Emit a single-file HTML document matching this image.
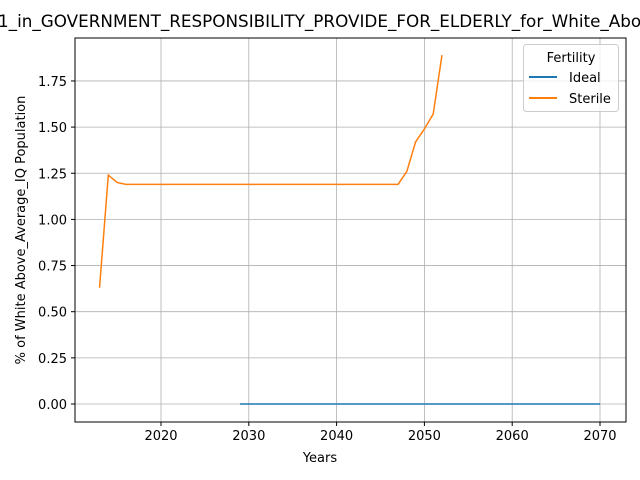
<!DOCTYPE html>
<html><head><meta charset="utf-8"><style>
html,body{margin:0;padding:0;background:#fff;overflow:hidden}
svg{display:block;font-family:"DejaVu Sans","Liberation Sans",sans-serif}
</style></head><body>
<svg id="chart" width="640" height="480" viewBox="0 0 640 480">
<text x="-2" y="27" font-size="16.8" fill="#000">1_in_GOVERNMENT_RESPONSIBILITY_PROVIDE_FOR_ELDERLY_for_White_Above_Average_IQ</text>
<g id="grid"></g>
<g id="series"></g>
<rect x="75" y="38" width="551" height="384" fill="none" stroke="#000" stroke-width="1"/>
<g id="axes"></g>
<text x="320" y="462" font-size="13" text-anchor="middle">Years</text>
<text transform="translate(25,230) rotate(-90)" font-size="13" text-anchor="middle">% of White Above_Average_IQ Population</text>
<g>
<rect x="523.5" y="44.5" width="95" height="67" rx="3" fill="#fff" fill-opacity="0.8" stroke="#ccc"/>
<text x="571" y="62" font-size="13" text-anchor="middle">Fertility</text>
<g><line x1="529" y1="77" x2="557" y2="77" stroke="#1f77b4" stroke-width="2"/><text x="569" y="82" font-size="13">Ideal</text></g>
<g><line x1="529" y1="98" x2="557" y2="98" stroke="#ff7f0e" stroke-width="2"/><text x="569" y="103" font-size="13">Sterile</text></g>
</g>
</svg>
<script>
const idealYears = [];
for (let y = 2029; y <= 2070; y++) idealYears.push(y);
const idealValues = idealYears.map(() => 0);
const sterileYears = [2013,2014,2015,2016,2017,2020,2025,2030,2035,2040,2045,2046,2047,2048,2049,2050,2051,2052];
const sterileValues = [0.63,1.24,1.20,1.19,1.19,1.19,1.19,1.19,1.19,1.19,1.19,1.19,1.19,1.26,1.42,1.49,1.57,1.89];
const xTicks = [2020,2030,2040,2050,2060,2070];
const yTicks = [0,0.25,0.5,0.75,1.0,1.25,1.5,1.75];

const NS = "http://www.w3.org/2000/svg";
const X = v => 161 + (v - 2020) * 8.78;
const Y = v => 404 - v * 184.6;
const grid = document.getElementById('grid'), axes = document.getElementById('axes'), series = document.getElementById('series');
function mk(tag, attrs, parent){const e=document.createElementNS(NS,tag);for(const k in attrs)e.setAttribute(k,attrs[k]);parent.appendChild(e);return e;}
xTicks.forEach(t => {
  const x = X(t);
  const g = mk('line',{x1:x,y1:38,x2:x,y2:422,stroke:'#b0b0b0','stroke-width':0.8},grid);
  
  
  mk('line',{x1:x,y1:422,x2:x,y2:426,stroke:'#000'},axes);
  const l = mk('text',{x:x,y:440,'font-size':13,'text-anchor':'middle'},axes);
  l.textContent = t;
  
  
});
yTicks.forEach(t => {
  const y = Y(t);
  const g = mk('line',{x1:75,y1:y,x2:626,y2:y,stroke:'#b0b0b0','stroke-width':0.8},grid);
  
  
  mk('line',{x1:71,y1:y,x2:75,y2:y,stroke:'#000'},axes);
  const l = mk('text',{x:67,y:y+5,'font-size':13,'text-anchor':'end'},axes);
  l.textContent = t.toFixed(2);
  
  
});
function line(xs, vs, color, name){
  const p = mk('polyline',{points:xs.map((x,i)=>X(x)+','+Y(vs[i])).join(' '),fill:'none',stroke:color,'stroke-width':1.5},series);
  
  
}
line(idealYears, idealValues, '#1f77b4', 'ideal-line');
line(sterileYears, sterileValues, '#ff7f0e', 'sterile-line');
</script>
</body></html>
